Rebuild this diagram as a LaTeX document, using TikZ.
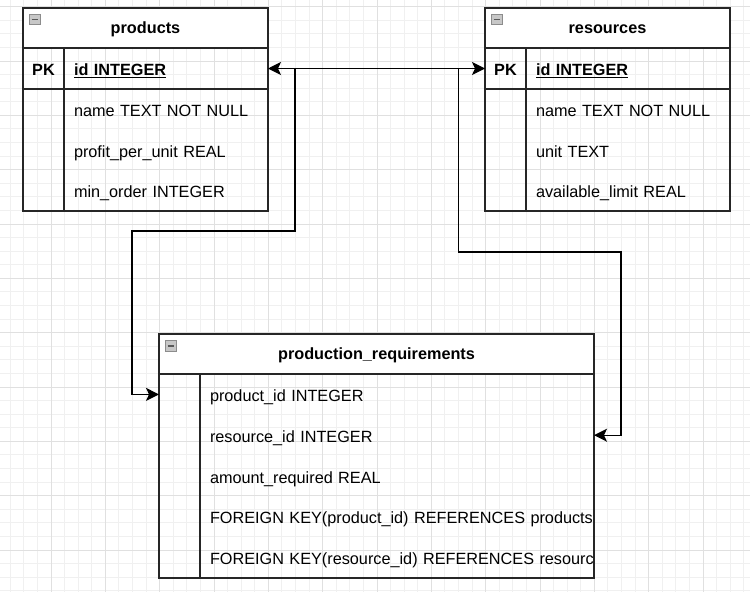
\documentclass[tikz,border=0pt]{standalone}
\usepackage{fontspec}
\setmainfont{Liberation Sans}
\usetikzlibrary{arrows.meta}
% bold field name with a draw.io style underline
\newcommand\keyfield[1]{\setbox0\hbox{\bfseries #1}\rlap{\rule[-2.2pt]{\wd0}{1.2pt}}\box0}
\begin{document}
\begin{tikzpicture}[x=1pt,y=-1pt,
  font=\fontsize{16.25}{19.5}\selectfont,
  gridminor/.style={draw=black!6, line width=1pt},
  gridmajor/.style={draw=black!12, line width=1pt},
  frame/.style={draw=black!85, line width=1.3pt},
  tablebox/.style={frame, anchor=north west, inner sep=0pt, outer sep=0pt},
  headbox/.style={tablebox, fill=white},
  titletext/.style={inner sep=0pt, yshift=-1.5pt, font=\fontsize{16.25}{19.5}\selectfont\bfseries},
  field/.style={anchor=west, inner sep=0pt, outer sep=0pt, minimum height=40.7pt,
    text height=14.5pt, text depth=0.5pt, text width=#1, align=left},
  keycell/.style={inner sep=0pt, outer sep=0pt, minimum width=41pt, minimum height=40.7pt,
    text height=14.5pt, text depth=0.5pt, font=\fontsize{16.25}{19.5}\selectfont\bfseries},
  icon/.style={draw=black!45, fill=black!22, line width=0.8pt, inner sep=0pt,
    minimum width=11pt, minimum height=10.5pt,
    path picture={\draw[black!65, line width=1.8pt]
      ([xshift=2.2pt]path picture bounding box.west) --
      ([xshift=-2.2pt]path picture bounding box.east);}},
  conn/.style={draw=black, line width=1.4pt, {Stealth[length=13pt, width=13pt, inset=3pt]}-{Stealth[length=13pt, width=13pt, inset=3pt]}}
]
\useasboundingbox (0,0) rectangle (750,592);
\fill[white] (0,0) rectangle (750,592);

% background grid: fine lines every 13.58, heavier every fourth
\foreach \i in {1,...,55} \draw[gridminor] ({-3.3+13.583*\i},0) -- ++(0,592);
\foreach \k in {0,...,43} \draw[gridminor] (0,{6.7+13.583*\k}) -- ++(750,0);
\foreach \i in {4,8,...,52} \draw[gridmajor] ({-3.3+13.583*\i},0) -- ++(0,592);
\foreach \k in {0,4,...,40} \draw[gridmajor] (0,{6.7+13.583*\k}) -- ++(750,0);

% ---------- products ----------
\node[tablebox, minimum width=245pt, minimum height=203pt] (products) at (23,8) {};
\node[headbox, minimum width=245pt, minimum height=40pt] (products-head) at (23,8) {};
\draw[frame] (23,89) -- (268,89);
\draw[frame] (64,48) -- (64,211);
\node[icon] (products-icon) at (35,19.5) {};
\node[titletext] (products-title) at (145.5,28) {products};
\node[keycell] (products-pk) at (43.5,68.5) {PK};
\node[field=194pt] (products-id) at (74,68.5) {\keyfield{id INTEGER}};
\node[field=194pt] (products-name) at (74,109.3) {name TEXT NOT NULL};
\node[field=194pt] (products-profit) at (74,150) {profit\_per\_unit REAL};
\node[field=194pt] (products-min) at (74,190.7) {min\_order INTEGER};

% ---------- resources ----------
\node[tablebox, minimum width=245pt, minimum height=203pt] (resources) at (485,8) {};
\node[headbox, minimum width=245pt, minimum height=40pt] (resources-head) at (485,8) {};
\draw[frame] (485,89) -- (730,89);
\draw[frame] (526,48) -- (526,211);
\node[icon] (resources-icon) at (497,19.5) {};
\node[titletext] (resources-title) at (607.5,28) {resources};
\node[keycell] (resources-pk) at (505.5,68.5) {PK};
\node[field=194pt] (resources-id) at (536,68.5) {\keyfield{id INTEGER}};
\node[field=194pt] (resources-name) at (536,109.3) {name TEXT NOT NULL};
\node[field=194pt] (resources-unit) at (536,150) {unit TEXT};
\node[field=194pt] (resources-limit) at (536,190.7) {available\_limit REAL};

% ---------- production_requirements ----------
\node[tablebox, minimum width=435pt, minimum height=244pt] (prodreq) at (159,334) {};
\node[headbox, minimum width=435pt, minimum height=40pt] (prodreq-head) at (159,334) {};
\draw[frame] (200,374) -- (200,578);
\node[icon] (prodreq-icon) at (171,346) {};
\node[titletext] (prodreq-title) at (376.5,354) {production\_requirements};
\node[keycell] (pr-key1) at (179.5,394.4) {};
\node[keycell] (pr-key2) at (179.5,435.2) {};
\node[field=384pt] (pr-product) at (210,394.4) {product\_id INTEGER};
\node[field=384pt] (pr-resource) at (210,435.2) {resource\_id INTEGER};
\node[field=384pt] (pr-amount) at (210,476) {amount\_required REAL};
\node[field=384pt] (pr-fk1) at (210,516.8) {FOREIGN KEY(product\_id) REFERENCES products};
\node[field=384pt] (pr-fk2) at (210,557.6) {FOREIGN KEY(resource\_id) REFERENCES resourc};

% ---------- relations ----------
\coordinate (r-drop) at (458.3,252);
\coordinate (r-turn) at (621,252);
\coordinate (l-drop) at (295,231);
\coordinate (l-turn) at (132,231);
\draw[conn] (products-id.east) -| (r-drop) -- (r-turn) |- (pr-resource.east);
\draw[conn] (resources-pk.west) -| (l-drop) -- (l-turn) |- (pr-key1.west);
\end{tikzpicture}
\end{document}
